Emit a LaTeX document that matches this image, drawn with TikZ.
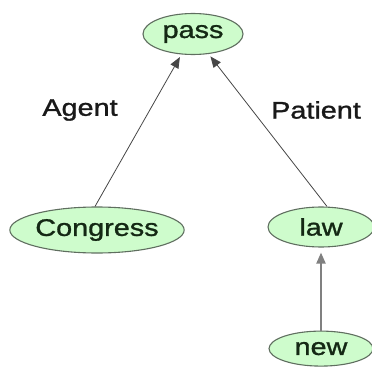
\documentclass[tikz,border=0pt]{standalone}
\usepackage{fontspec}
\setmainfont{Liberation Sans}[FakeStretch=1.2,FakeBold=1.2]
\usepackage{tikz}
\usetikzlibrary{shapes}
\usetikzlibrary{positioning}
\usetikzlibrary{arrows.meta}
\definecolor{nodegreen}{RGB}{206,252,204}
\definecolor{nodeline}{RGB}{95,110,95}
\definecolor{wordtext}{RGB}{20,40,20}
\definecolor{edgegray}{RGB}{70,70,70}
\tikzstyle{word}=[ellipse,draw=nodeline,line width=1.1pt,fill=nodegreen,inner sep=0pt,text=wordtext,font=\fontsize{24}{26}\selectfont]
\tikzstyle{role}=[font=\fontsize{24}{26}\selectfont,text=black!90]
\tikzstyle{dep}=[-{Triangle[length=11pt,width=9pt]},draw=edgegray,line width=0.8pt,shorten >=3pt]

\begin{document}
\begin{tikzpicture}[x=1pt,y=-1pt]
	\useasboundingbox (0,0) rectangle (372,369);
	\node[word,minimum width=100pt,minimum height=41pt] (pass) at (193,34) {pass};
	\node[word,minimum width=171pt,minimum height=46pt] (congress) at (97,230) {Congress};
	\node[word,minimum width=106pt,minimum height=40pt] (law) at (321,227) {law};
	\node[word,minimum width=104pt,minimum height=35pt,below=83pt of law] (new) {new};
	
	\node[role] (agent) at (80,110) {Agent};
	\node[role] (patient) at (316,110) {Patient};
	
	\draw[dep] ([xshift=-2pt]congress.north) -- (pass);
	\draw[dep] ([xshift=6pt]law.north) -- (pass);
	\draw[dep,line width=2pt,draw=gray,shorten >=5pt] (new) -- (law);
\end{tikzpicture}
\end{document}
